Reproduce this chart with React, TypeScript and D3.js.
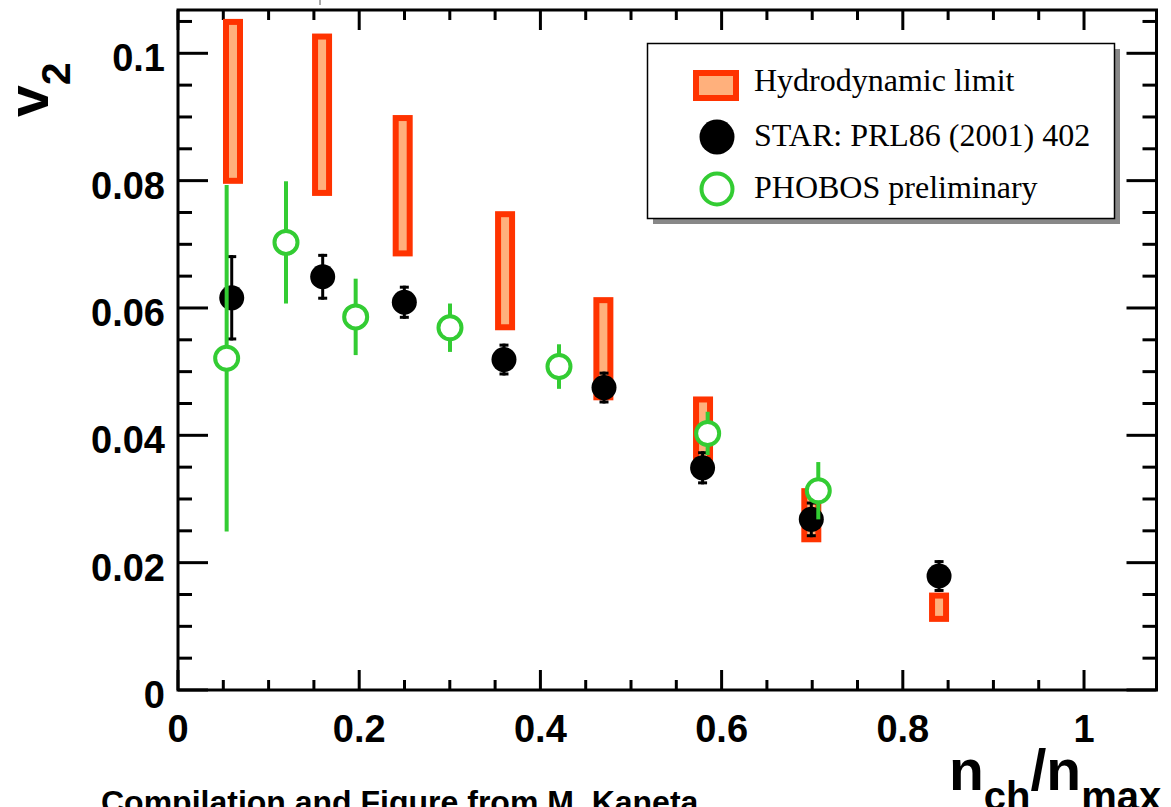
import React from "react";
import * as d3 from "d3";

// ---- data ----
const hydroX = [0.0607, 0.159, 0.248, 0.361, 0.4695, 0.5795, 0.699, 0.84];
const hydroHigh = [0.1054, 0.1031, 0.0903, 0.0752, 0.0617, 0.0461, 0.0317, 0.0153];
const hydroLow = [0.0795, 0.0776, 0.0681, 0.0565, 0.0455, 0.0345, 0.0232, 0.0107];

const starX = [0.0593, 0.1597, 0.2498, 0.3598, 0.4702, 0.579, 0.699, 0.84];
const starV = [0.0616, 0.0649, 0.0609, 0.0519, 0.0475, 0.0349, 0.0268, 0.0179];
const starErr = [0.0067, 0.0036, 0.0026, 0.0025, 0.0025, 0.0026, 0.0028, 0.0025];

const phobosX = [0.0537, 0.1192, 0.1961, 0.3002, 0.4205, 0.5846, 0.7067];
const phobosV = [0.0521, 0.0703, 0.0586, 0.0569, 0.0508, 0.0403, 0.0313];
const phobosErr = [0.0272, 0.0096, 0.006, 0.0038, 0.0035, 0.0034, 0.0045];

const xTickLabels = ["0", "0.2", "0.4", "0.6", "0.8", "1"];
const yTickLabels = ["0", "0.02", "0.04", "0.06", "0.08", "0.1"];
const legendLabels = ["Hydrodynamic limit", "STAR: PRL86 (2001) 402", "PHOBOS preliminary"];

const W = 1171;
const H = 807;
const L = 178, R = 1156.5, T = 10, B = 690;

const ORANGE = "#ff3300";
const ORANGE_FILL = "#ffb07c";
const GREEN = "#33cc33";
const SANS = "'Liberation Sans', Arial, Helvetica, sans-serif";
const SERIF = "'Liberation Serif', 'Times New Roman', serif";

export default function App() {
  const x = d3.scaleLinear().domain([0, 1.08]).range([L, R]);
  const y = d3.scaleLinear().domain([0, 0.1068]).range([B, T]);

  const xMinor = d3.range(0, 21).map((i) => i * 0.05).filter((v) => x(v) < R - 2);
  const yMinor = d3.range(0, 22).map((i) => i * 0.005).filter((v) => y(v) > T + 2);
  const isXMajor = (v: number) => Math.abs(v / 0.2 - Math.round(v / 0.2)) < 1e-6;
  const isYMajor = (v: number) => Math.abs(v / 0.02 - Math.round(v / 0.02)) < 1e-6;

  const boxStroke = 6;
  const boxW = 14;

  return (
    <svg
      width={W}
      height={H}
      style={{ position: "absolute", left: 0, top: 0, background: "#fff" }}
      xmlns="http://www.w3.org/2000/svg"
    >
      <rect x={0} y={0} width={W} height={H} fill="#fff" />
      {/* stray tick above frame */}
      <line x1={320} x2={320} y1={0} y2={5} stroke="#555" strokeWidth={1} />

      {/* ticks */}
      <g stroke="#000" strokeWidth={3}>
        {xMinor.map((v, i) => {
          const len = isXMajor(v) ? 20 : 10;
          const px = x(v);
          return (
            <g key={"xt" + i}>
              <line x1={px} x2={px} y1={B} y2={B - len} />
              <line x1={px} x2={px} y1={T} y2={T + len} />
            </g>
          );
        })}
        {yMinor.map((v, i) => {
          const len = isYMajor(v) ? 30 : 14;
          const py = y(v);
          return (
            <g key={"yt" + i}>
              <line x1={L} x2={L + len} y1={py} y2={py} />
              <line x1={R} x2={R - len} y1={py} y2={py} />
            </g>
          );
        })}
      </g>

      {/* hydro boxes */}
      {hydroX.map((hx, i) => {
        const top = y(hydroHigh[i]) + boxStroke / 2;
        const bot = y(hydroLow[i]) - boxStroke / 2;
        return (
          <rect
            key={"h" + i}
            x={x(hx) - boxW / 2}
            y={top}
            width={boxW}
            height={Math.max(bot - top, 1)}
            fill={ORANGE_FILL}
            stroke={ORANGE}
            strokeWidth={boxStroke}
          />
        );
      })}

      {/* STAR */}
      {starX.map((sx, i) => {
        const px = x(sx);
        const yt = y(starV[i] + starErr[i]);
        const yb = y(starV[i] - starErr[i]);
        return (
          <g key={"s" + i}>
            <line x1={px} x2={px} y1={yt} y2={yb} stroke="#000" strokeWidth={3} />
            <line x1={px - 4.5} x2={px + 4.5} y1={yt + 1.5} y2={yt + 1.5} stroke="#000" strokeWidth={3} />
            <line x1={px - 4.5} x2={px + 4.5} y1={yb - 1.5} y2={yb - 1.5} stroke="#000" strokeWidth={3} />
            <circle cx={px} cy={y(starV[i])} r={12.5} fill="#000" />
          </g>
        );
      })}

      {/* PHOBOS */}
      {phobosX.map((sx, i) => {
        const px = x(sx);
        return (
          <g key={"p" + i}>
            <line
              x1={px}
              x2={px}
              y1={y(phobosV[i] + phobosErr[i])}
              y2={y(phobosV[i] - phobosErr[i])}
              stroke={GREEN}
              strokeWidth={4}
            />
            <circle cx={px} cy={y(phobosV[i])} r={11.5} fill="#fff" stroke={GREEN} strokeWidth={4} />
          </g>
        );
      })}

      {/* frame */}
      <rect x={L} y={T} width={R - L} height={B - T} fill="none" stroke="#000" strokeWidth={3} />

      {/* tick labels */}
      <g fontFamily={SANS} fontWeight="bold" fontSize={38} fill="#000">
        {xTickLabels.map((t, i) => (
          <text key={"xl" + i} x={x(i * 0.2)} y={742} textAnchor="middle">
            {t}
          </text>
        ))}
        {yTickLabels.map((t, i) => (
          <text key={"yl" + i} x={165} y={y(i * 0.02) + 18} textAnchor="end">
            {t}
          </text>
        ))}
      </g>

      {/* axis titles */}
      <text
        transform="translate(48,117) rotate(-90)"
        fontFamily={SANS}
        fontWeight="bold"
        fontSize={57}
        fill="#000"
      >
        v
        <tspan fontSize={41} dy={22}>
          2
        </tspan>
      </text>
      <text x={949} y={790} fontFamily={SANS} fontWeight="bold" fontSize={57} fill="#000">
        n
        <tspan fontSize={40} dy={20}>
          ch
        </tspan>
        <tspan dy={-20}>/n</tspan>
        <tspan fontSize={40} dy={20}>
          max
        </tspan>
      </text>

      {/* credit */}
      <text x={101} y={813} fontFamily={SANS} fontWeight="bold" fontSize={32} fill="#000">
        Compilation and Figure from M. Kaneta
      </text>

      {/* legend */}
      <rect x={653} y={49} width={467} height={175} fill="#888" />
      <rect x={647.5} y={43.5} width={467} height={175} fill="#fff" stroke="#000" strokeWidth={1.5} />
      <rect x={696} y={73} width={40} height={25} fill={ORANGE_FILL} stroke={ORANGE} strokeWidth={6} />
      <circle cx={717} cy={137} r={17.5} fill="#000" />
      <circle cx={717} cy={189} r={15.5} fill="#fff" stroke={GREEN} strokeWidth={4} />
      <g fontFamily={SERIF} fontSize={32} fill="#000">
        <text x={754} y={91}>{legendLabels[0]}</text>
        <text x={754} y={146}>{legendLabels[1]}</text>
        <text x={754} y={198}>{legendLabels[2]}</text>
      </g>
    </svg>
  );
}
